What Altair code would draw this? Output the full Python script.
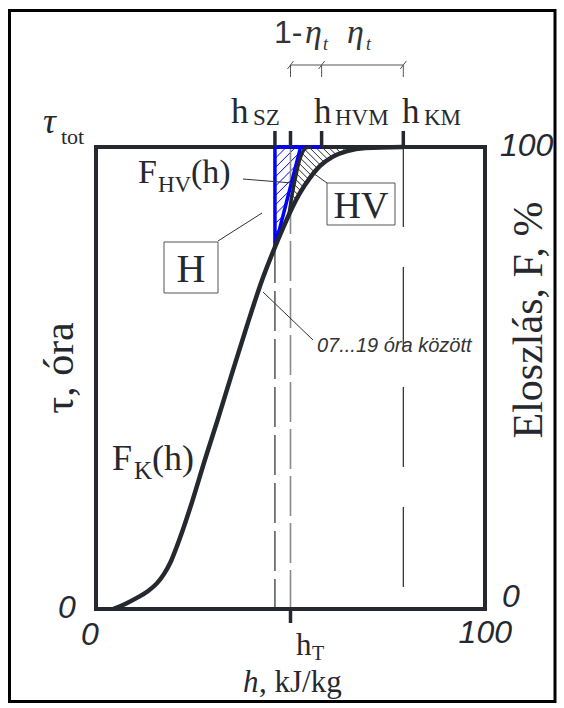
import math
import altair as alt
import pandas as pd

# ---------------- data ----------------
fk_h = [4.4, 7.5, 10.5, 13.4, 15.7, 17.5, 19.3, 21.6, 24.7, 28.0, 31.4, 35.0, 39.1, 42.7, 45.5,
        48.1, 50.4, 52.4, 55.0, 57.6, 60.7, 64.5, 69.2, 78.9]
fk_F = [0.0, 1.1, 2.4, 3.9, 5.6, 7.6, 10.4, 15.4, 23.2, 32.3, 41.3, 51.1, 62.1, 71.2, 77.3,
        82.5, 86.8, 90.0, 93.3, 95.9, 97.8, 99.1, 99.8, 100.0]
fhv_h = [49.6, 50.4, 51.4, 52.2, 53.0, 54.0, 55.5]
fhv_F = [85.3, 89.6, 93.9, 96.8, 98.7, 99.8, 100.0]
h_SZ, h_T, h_HVM, h_KM = 46.0, 50.0, 58.0, 79.0
blue_h = [h_HVM, h_SZ, h_SZ, 52.6]
blue_F = [100.0, 100.0, 78.3, 100.0]
top_marks = [h_SZ, h_T, h_HVM, h_KM]
bracket_marks = [h_T, h_HVM, h_KM]

# ---------------- layout ----------------
W, H = 389, 462
OX, OY = 96, 147
SX, SY = W / 100.0, H / 100.0
INK = "#25292f"
BLUE = "#0000ff"
SERIF = "Liberation Serif"
SANS = "Liberation Sans"

xs = alt.Scale(domain=[0, 100], nice=False, zero=False)
ys = alt.Scale(domain=[0, 100], nice=False, zero=False)


def X(f):
    return alt.X(f + ":Q", scale=xs, axis=None)


def Y(f):
    return alt.Y(f + ":Q", scale=ys, axis=None)


def hatch(poly, kind, spacing):
    pts = [(x * SX, y * SY) for x, y in poly]
    if kind == "/":
        f = lambda u, v: v - u
        g = lambda u, v: u + v
    else:
        f = lambda u, v: v + u
        g = lambda u, v: u - v
    vals = [f(*p) for p in pts]
    step = spacing * math.sqrt(2)
    segs = []
    c = min(vals) + step * 0.5
    n = len(pts)
    while c < max(vals):
        ints = []
        for i in range(n):
            p, q = pts[i], pts[(i + 1) % n]
            a, b = f(*p) - c, f(*q) - c
            if (a < 0) != (b < 0):
                t = a / (a - b)
                ints.append((p[0] + t * (q[0] - p[0]), p[1] + t * (q[1] - p[1])))
        ints.sort(key=lambda pt: g(*pt))
        for k in range(0, len(ints) - 1, 2):
            (u1, v1), (u2, v2) = ints[k], ints[k + 1]
            segs.append({"x": u1 / SX, "y": v1 / SY, "x2": u2 / SX, "y2": v2 / SY})
        c += step
    return pd.DataFrame(segs)


one = pd.DataFrame({"a": [0]})


def seg(x1, y1, x2, y2, color="#333333", w=1):
    return alt.Chart(one).mark_rule(color=color, strokeWidth=w).encode(
        x=alt.value(x1 - OX), y=alt.value(y1 - OY), x2=alt.value(x2 - OX), y2=alt.value(y2 - OY))


def txt(s, px, py, size, family=SERIF, style="normal", align="left", baseline="alphabetic", angle=0, color=INK):
    return alt.Chart(one).mark_text(
        text=s, font=family, fontSize=size, fontStyle=style, align=align, baseline=baseline,
        angle=angle, color=color).encode(x=alt.value(px - OX), y=alt.value(py - OY))


def box(x1, y1, x2, y2):
    return alt.Chart(one).mark_rect(fill="white", stroke="#555555", strokeWidth=1).encode(
        x=alt.value(x1 - OX), x2=alt.value(x2 - OX), y=alt.value(y1 - OY), y2=alt.value(y2 - OY))


layers = []

# outer border
layers.append(alt.Chart(one).mark_rect(fillOpacity=0, stroke="black", strokeWidth=3).encode(
    x=alt.value(9.5 - OX), x2=alt.value(555 - OX), y=alt.value(10.5 - OY), y2=alt.value(701.5 - OY)))

# hatching
blue_poly = [(blue_h[1], blue_F[1]), (blue_h[2], blue_F[2]), (blue_h[3], blue_F[3])]
layers.append(alt.Chart(hatch(blue_poly, "/", 6.6)).mark_rule(color=BLUE, strokeWidth=1).encode(
    x=X("x"), y=Y("y"), x2="x2:Q", y2="y2:Q"))
blk_poly = [(a, b) for a, b in zip(fhv_h, fhv_F)] + [(69.2, 100.0)]
blk_poly += [(a, b) for a, b in reversed(list(zip(fk_h, fk_F))) if fhv_h[0] < a < 69.2]
layers.append(alt.Chart(hatch(blk_poly, "\\", 4.6)).mark_rule(color=INK, strokeWidth=1).encode(
    x=X("x"), y=Y("y"), x2="x2:Q", y2="y2:Q"))

# vertical dashed lines
layers.append(alt.Chart(pd.DataFrame({"h": [h_SZ]})).mark_rule(color=INK, strokeWidth=1.2, strokeDash=[40, 8]).encode(
    x=X("h"), y=alt.value(0), y2=alt.value(H)))
layers.append(alt.Chart(pd.DataFrame({"h": [h_T]})).mark_rule(color="#8a8a8a", strokeWidth=1.6, strokeDash=[40, 7]).encode(
    x=X("h"), y=alt.value(0), y2=alt.value(H)))
layers.append(alt.Chart(pd.DataFrame({"h": [h_KM]})).mark_rule(color=INK, strokeWidth=1.2, strokeDash=[80, 40]).encode(
    x=X("h"), y=alt.value(0), y2=alt.value(H)))

# plot frame
layers.append(alt.Chart(one).mark_rect(fillOpacity=0, stroke=INK, strokeWidth=4).encode(
    x=alt.value(0), x2=alt.value(W), y=alt.value(0), y2=alt.value(H)))

# blue outline
bdf = pd.DataFrame({"h": blue_h, "F": blue_F, "o": list(range(len(blue_h)))})
layers.append(alt.Chart(bdf).mark_line(color=BLUE, strokeWidth=3.5, strokeJoin="miter").encode(
    x=X("h"), y=Y("F"), order="o:Q"))

# curves
layers.append(alt.Chart(pd.DataFrame({"h": fk_h, "F": fk_F, "o": list(range(len(fk_h)))})).mark_line(
    color=INK, strokeWidth=4.5, interpolate="monotone").encode(x=X("h"), y=Y("F"), order="o:Q"))
layers.append(alt.Chart(pd.DataFrame({"h": fhv_h, "F": fhv_F, "o": list(range(len(fhv_h)))})).mark_line(
    color=INK, strokeWidth=3.5, interpolate="monotone").encode(x=X("h"), y=Y("F"), order="o:Q"))

# top tick marks and bottom tick
layers.append(alt.Chart(pd.DataFrame({"h": top_marks})).mark_rule(color=INK, strokeWidth=3.5).encode(
    x=X("h"), y=alt.value(-16), y2=alt.value(0)))
layers.append(alt.Chart(pd.DataFrame({"h": [h_T]})).mark_rule(color=INK, strokeWidth=3.5).encode(
    x=X("h"), y=alt.value(H), y2=alt.value(H + 14)))

# bracket
layers.append(alt.Chart(pd.DataFrame({"a": [h_T], "b": [h_KM]})).mark_rule(color="#555555", strokeWidth=1).encode(
    x=X("a"), x2="b:Q", y=alt.value(65 - OY)))
layers.append(alt.Chart(pd.DataFrame({"h": bracket_marks})).mark_rule(color="#555555", strokeWidth=1).encode(
    x=X("h"), y=alt.value(65 - OY), y2=alt.value(77 - OY)))
layers.append(alt.Chart(pd.DataFrame({"h": bracket_marks})).mark_rule(color="#555555", strokeWidth=1, xOffset=-3, x2Offset=3).encode(
    x=X("h"), x2="h:Q", y=alt.value(69 - OY), y2=alt.value(61 - OY)))

# leader lines
layers += [seg(263, 292, 313, 340), seg(218, 241, 262, 213), seg(243, 179, 292, 183), seg(313, 173, 327, 183)]

# boxes
layers += [box(164, 242, 218, 293), box(327, 183, 395, 225)]
layers += [txt("H", 191, 282, 40, align="center"), txt("HV", 361, 218, 38, align="center")]

# top labels
layers += [
    txt("h", 231, 123, 35), txt("SZ", 253, 125, 23),
    txt("h", 314, 123, 35), txt("HVM", 335, 125, 23),
    txt("h", 402, 123, 35), txt("KM", 424, 125, 23),
    txt("1-", 274, 43, 32, family=SANS, color="#333333"),
    txt("η", 305, 43, 34, style="italic", color="#333333"), txt("t", 323, 50, 18, style="italic", color="#333333"),
    txt("η", 347, 43, 34, style="italic", color="#333333"), txt("t", 366, 50, 18, style="italic", color="#333333"),
]

# curve labels
layers += [
    txt("F", 138, 183, 34), txt("HV", 158, 192, 23), txt("(h)", 191, 183, 34),
    txt("F", 112, 470, 36), txt("K", 134, 479, 25), txt("(h)", 152, 470, 36),
    txt("07...19 óra között", 317, 352, 20, family=SANS, style="italic", color="#333333"),
]

# axis numbers
layers += [
    txt("0", 67, 618, 32, family=SANS, style="italic", align="center"),
    txt("0", 90, 645, 32, family=SANS, style="italic", align="center"),
    txt("100", 512, 643, 32, family=SANS, style="italic", align="right"),
    txt("100", 500, 156, 32, family=SANS, style="italic"),
    txt("0", 502, 607, 32, family=SANS, style="italic"),
]

# axis titles
layers += [
    txt("τ", 43, 133, 36, style="italic"), txt("tot", 61, 144, 22),
    txt("τ, óra", 60, 368, 42, angle=270, align="center", baseline="middle"),
    txt("Eloszlás, F, %", 529, 320, 42, angle=270, align="center", baseline="middle"),
    txt("h", 296, 655, 31), txt("T", 312, 660, 20),
    txt("h", 243, 692, 31, style="italic"), txt(", kJ/kg", 259, 692, 31),
]

chart = alt.layer(*layers).properties(
    width=W, height=H,
    padding={"left": OX, "top": OY, "right": 564 - OX - W, "bottom": 708 - OY - H},
    autosize="none", background="white",
).configure_view(strokeWidth=0)

chart.save("out.html", embed_options={"renderer": "svg", "actions": False})
